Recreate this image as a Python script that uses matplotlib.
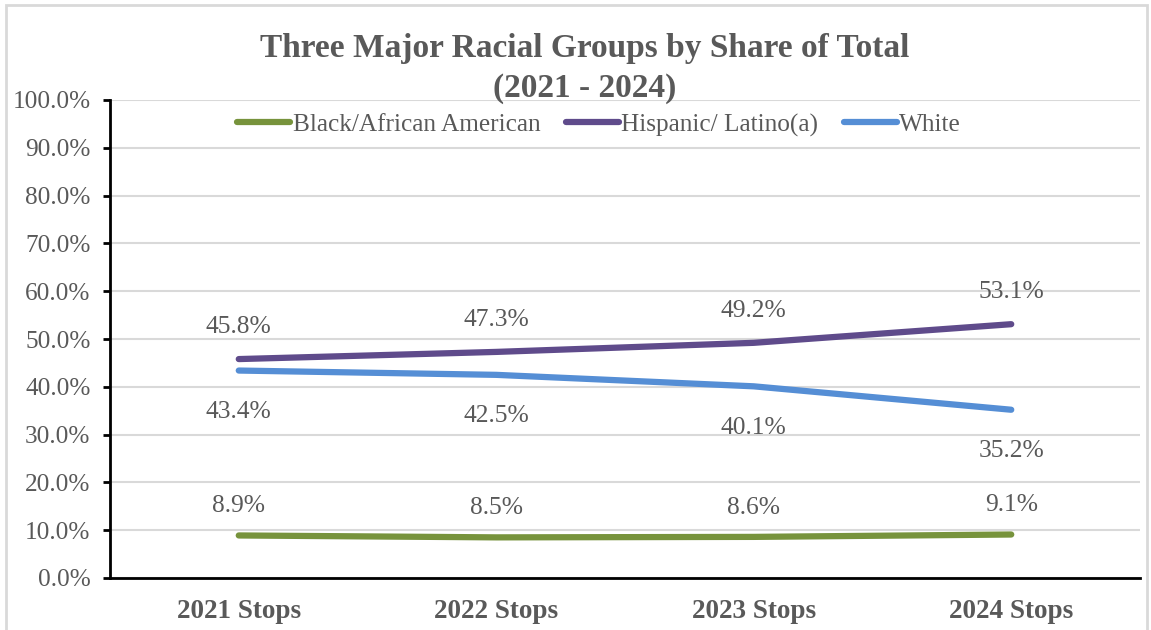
import matplotlib.pyplot as plt
import matplotlib.ticker as mticker
from matplotlib.patches import Rectangle

plt.rcParams['font.family'] = ['Liberation Serif', 'DejaVu Serif']

# data
categories = ['2021 Stops', '2022 Stops', '2023 Stops', '2024 Stops']
black = [8.9, 8.5, 8.6, 9.1]
hispanic = [45.8, 47.3, 49.2, 53.1]
white = [43.4, 42.5, 40.1, 35.2]

TEXT = '#595959'
COLORS = {'Black/African American': '#77933C', 'Hispanic/ Latino(a)': '#5F4B8B', 'White': '#558ED5'}

fig = plt.figure(figsize=(11.51, 6.30), dpi=100)
ax = fig.add_axes([110 / 1151, 1 - 578 / 630, 1030 / 1151, 478 / 630])

x = range(len(categories))
series = [('Black/African American', black, 13), ('Hispanic/ Latino(a)', hispanic, 15), ('White', white, -22)]
for name, vals, off in series:
    ax.plot(x, vals, color=COLORS[name], lw=4.5, solid_capstyle='round', label=name)
    for xi, v in zip(x, vals):
        ax.annotate('%.1f%%' % v, (xi, v), xytext=(0, off), textcoords='offset points',
                    ha='center', va='bottom' if off > 0 else 'top', fontsize=18.4, color=TEXT)

ax.set_xlim(-0.5, 3.5)
ax.set_ylim(0, 100)
ax.set_xticks(list(x))
ax.set_xticklabels(categories, fontsize=19.5, fontweight='bold', color=TEXT)
ax.yaxis.set_major_locator(mticker.MultipleLocator(10))
ax.yaxis.set_major_formatter(mticker.FuncFormatter(lambda v, p: '%.1f%%' % v))
ax.tick_params(axis='y', labelsize=18.2, labelcolor=TEXT, length=5, width=2, color='black', pad=9)
ax.tick_params(axis='x', length=0, pad=15)
ax.grid(axis='y', color='#d9d9d9', lw=1.5)
ax.set_axisbelow(True)
for s in ['top', 'right']:
    ax.spines[s].set_visible(False)
ax.spines['left'].set_linewidth(2)
ax.spines['bottom'].set_linewidth(2)

leg = ax.legend(loc='center', bbox_to_anchor=(0.475, 1 - 25 / 478), ncol=3, frameon=False, fontsize=18.2,
                handlelength=2.1, handletextpad=0.1, columnspacing=1.0, borderaxespad=0)
for t in leg.get_texts():
    t.set_color(TEXT)

fig.text(585 / 1151, 1 - 49 / 630, 'Three Major Racial Groups by Share of Total', ha='center', va='center',
         fontsize=24, fontweight='bold', color=TEXT)
fig.text(585 / 1151, 1 - 89 / 630, '(2021 - 2024)', ha='center', va='center',
         fontsize=24, fontweight='bold', color=TEXT)

fig.patches.append(Rectangle((6 / 1151, -0.01), 1 - 10 / 1151, 1 - 5 / 630 + 0.01, transform=fig.transFigure,
                             fill=False, edgecolor='#d9d9d9', lw=2))

fig.savefig('out.png', dpi=100)
